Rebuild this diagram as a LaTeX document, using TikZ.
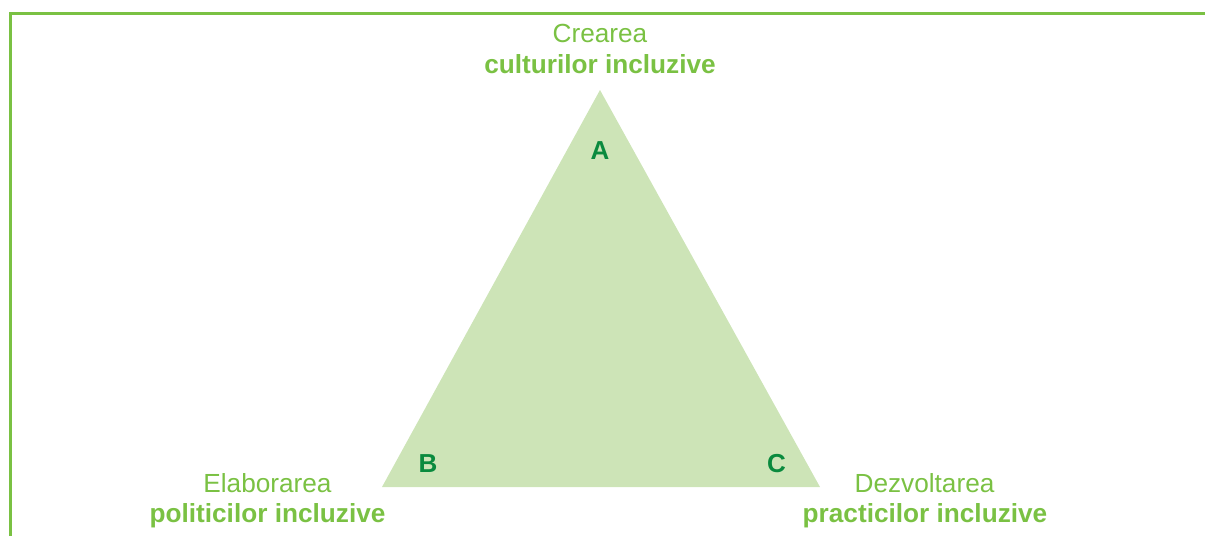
\documentclass[tikz,border=0pt]{standalone}
\usepackage{fontspec}
\setmainfont{Liberation Sans}
\definecolor{lgreen}{HTML}{7AC143}
\definecolor{tfill}{HTML}{CDE4B7}
\definecolor{dgreen}{HTML}{0A8A3E}
\begin{document}
\begin{tikzpicture}[x=1pt,y=-1pt,
  lbl/.style={anchor=base,inner sep=0pt,text=lgreen,font=\fontsize{26.2}{30}\selectfont},
  lblb/.style={lbl,font=\fontsize{26.2}{30}\selectfont\bfseries},
  corner/.style={anchor=center,inner sep=0pt,text=dgreen,font=\fontsize{26}{30}\selectfont\bfseries}]
\useasboundingbox (0,0) rectangle (1205,536);
\draw[lgreen,line width=3pt] (10,536) -- (10,13) -- (1205,13);
\coordinate (pa) at (600,90);
\coordinate (pb) at (382,487);
\coordinate (pc) at (820,487);
\fill[tfill] (pa) -- (pb) -- (pc) -- cycle;
\node[corner] (A) at (600,151) {A};
\node[corner] (B) at (428,463.5) {B};
\node[corner] (C) at (776.5,463.5) {C};
\node[lbl] (a1) at (600,42) {Crearea};
\node[lblb] (a2) at (600,73) {culturilor incluzive};
\node[lbl] (b1) at (267.5,492) {Elaborarea};
\node[lblb] (b2) at (267.5,522) {politicilor incluzive};
\node[lbl] (c1) at (924.5,492) {Dezvoltarea};
\node[lblb] (c2) at (925,522) {practicilor incluzive};
\end{tikzpicture}
\end{document}
